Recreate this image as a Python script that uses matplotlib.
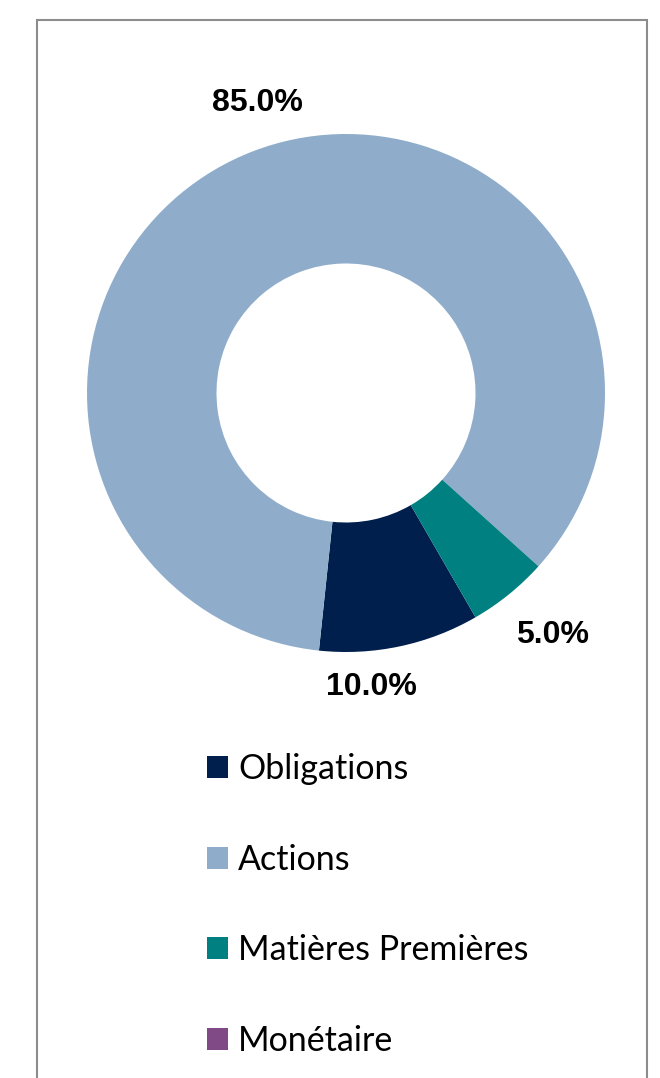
import matplotlib
matplotlib.use("Agg")
import matplotlib.pyplot as plt
import numpy as np
from matplotlib.patches import Rectangle

categories = ["Obligations", "Actions", "Matières Premières", "Monétaire"]
values = [10.0, 85.0, 5.0, 0.0]
colors = ["#001F4C", "#8FADCB", "#008080", "#7F4A85"]

W, H = 660, 1078
fig = plt.figure(figsize=(W / 100, H / 100), dpi=100)

# border
fig.patches.append(Rectangle((37 / W, -0.01), (647 - 37) / W, 1 - 20 / H + 0.01,
                             transform=fig.transFigure, fill=False,
                             edgecolor="#8C8C8C", linewidth=1.5))

cx, cy, R = 346, 393, 259
ax = fig.add_axes([(cx - R) / W, 1 - (cy + R) / H, 2 * R / W, 2 * R / H])
wedges, _ = ax.pie(values, colors=colors, startangle=-60, counterclock=False,
                   radius=1.0, wedgeprops=dict(width=0.5, edgecolor="none"))
ax.set_xlim(-1, 1)
ax.set_ylim(-1, 1)
ax.set_aspect("equal")
ax.axis("off")

# label placement tweaks (angle offset in degrees, radius)
tweaks = {0: (-7, 1.14), 1: (-4, 1.17), 2: (1.5, 1.23)}
for i, (w, v) in enumerate(zip(wedges, values)):
    if v <= 0:
        continue
    da, r = tweaks.get(i, (0, 1.18))
    mid = np.deg2rad((w.theta1 + w.theta2) / 2 + da)
    ax.text(r * np.cos(mid), r * np.sin(mid), f"{v:.1f}%",
            ha="center", va="center", fontsize=23, fontweight="bold",
            family="Liberation Sans", color="black", clip_on=False)

leg = fig.legend(wedges, categories, loc="upper left",
                 bbox_to_anchor=(207 / W, 1 - 753 / H),
                 frameon=False, prop=dict(family="Lato", size=24.5),
                 handlelength=0.62, handleheight=0.62, handletextpad=0.3,
                 labelspacing=1.72, borderpad=0, borderaxespad=0)

fig.savefig("out.png", dpi=100)
